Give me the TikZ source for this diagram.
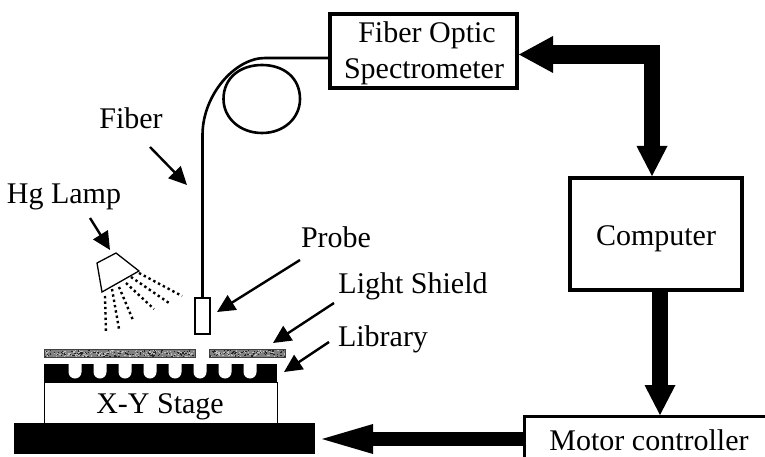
\documentclass[tikz,border=0pt]{standalone}
\usepackage{fontspec}
\setmainfont{Liberation Serif}
\usetikzlibrary{arrows.meta}
\tikzset{
  lbl/.style={anchor=base,inner sep=0pt,font=\fontsize{30}{32}\selectfont},
  thinarrow/.style={line width=2.4pt,-{Triangle[length=18pt,width=17pt]}},
  box/.style={draw,line width=4pt,fill=white,inner sep=0pt,outer sep=0pt},
  blk/.style={fill=black,draw=none},
  shield/.style={draw=black!75,line width=.6pt,fill=black!50},
  ray/.style={line width=2.4pt,dash pattern=on 2.4pt off 3pt},
  well/.style={fill=white,draw=none},
  fiberline/.style={line width=2.6pt},
}
\begin{document}
\begin{tikzpicture}[x=1pt,y=-1pt]
\useasboundingbox (0,0) rectangle (765,457);
\clip (0,0) rectangle (765,457);
% boxes
\node[box,minimum width=187pt,minimum height=74pt] (spec) at (423.5,51) {};
\node[box,minimum width=172pt,minimum height=112pt] (comp) at (656,234) {};
\node[box,line width=3.5pt,minimum width=300pt,minimum height=100pt,anchor=north west] (motor) at (524.5,416.5) {};
\node[lbl] (t1) at (427,43) {Fiber Optic};
\node[lbl] (t2) at (424,79) {Spectrometer};
\node[lbl] (t3) at (656,245) {Computer};
\node[lbl] (t4) at (649,450) {Motor controller};
% coordinates of thick arrows
\coordinate (specin) at (519,54.5);
\coordinate (headl) at (553,54.5);
\coordinate (corner) at (660,54.5);
\coordinate (compin) at (652,176);
\coordinate (vtop) at (652,45);
\coordinate (vbot) at (652,146);
\coordinate (compout) at (660,292);
\coordinate (motorhead) at (660,385);
\coordinate (motorin) at (660,415);
\coordinate (motorout) at (523,439);
\coordinate (basehead) at (373,439);
\coordinate (basein) at (322,439);
\draw[line width=19pt] (headl) -- (corner);
\fill (specin) -- ++(34,-18.5) -- ++(0,37) -- cycle;
\draw[line width=16pt] (vtop) -- (vbot);
\fill (compin) -- ++(-15.5,-30) -- ++(31,0) -- cycle;
\draw[line width=16pt] (compout) -- (motorhead);
\fill (motorin) -- ++(-15.5,-30) -- ++(31,0) -- cycle;
\draw[line width=14pt] (motorout) -- (basehead);
\fill (basein) -- ++(51,-15) -- ++(0,30) -- cycle;
% stage
\node[draw,line width=1pt,fill=white,inner sep=0pt,minimum width=233pt,minimum height=41pt] (stage) at (160.5,402.5) {};
\node[blk,inner sep=0pt,minimum width=301pt,minimum height=31pt] (base) at (164.5,438.5) {};
\node[blk,inner sep=0pt,minimum width=233pt,minimum height=18pt] (lib) at (160.5,373) {};
\foreach \x in {75,100,125,150,175,200,225,250}{
  \fill[well] (\x-6.5,364) -- (\x+6.5,364) -- (\x+6.5,372) arc[start angle=0,end angle=180,radius=6.5] -- cycle;
}
\node[lbl] (t5) at (160,413) {X-Y Stage};
% light shield
\node[shield,inner sep=0pt,minimum width=151pt,minimum height=8pt] (shl) at (119.5,353) {};
\node[shield,inner sep=0pt,minimum width=76pt,minimum height=8pt] (shr) at (247,353) {};
\pgfmathsetseed{7}
\foreach \i in {1,...,420}{
  \pgfmathsetmacro{\xx}{45+rnd*239}
  \pgfmathsetmacro{\yy}{350+rnd*6}
  \pgfmathsetmacro{\grayv}{rnd>.5?25:85}
  \pgfmathparse{(\xx<194||\xx>209.5)?1:0}
  \ifdim\pgfmathresult pt>0.5pt
  \fill[black!\grayv] (\xx,\yy) rectangle ++(1.3,1.1);
  \fi
}
% probe and fiber
\node[draw,line width=2.4pt,fill=white,inner sep=0pt,minimum width=15pt,minimum height=36pt] (probe) at (202.5,316) {};
\coordinate (fibjoin) at (329,58);
\draw[fiberline] (probe.north) -- (202.5,135) .. controls (202.5,95) and (235,58) .. (265,58) -- (fibjoin);
\draw[fiberline] (223.5,99) .. controls (223.5,78) and (240,65) .. (262,65) .. controls (284,65) and (300,78) .. (300,99) .. controls (300,118) and (284,133) .. (262,133) .. controls (240,133) and (223.5,118) .. (223.5,99) -- cycle;
% lamp
\draw[line width=1.3pt,line join=miter] (97,263) -- (116,253) -- (139,271) -- (102,292) -- cycle;
\coordinate (r1a) at (105,296); \coordinate (r1b) at (106,333);
\coordinate (r2a) at (112,289); \coordinate (r2b) at (119,329);
\coordinate (r3a) at (119,287); \coordinate (r3b) at (133,320);
\coordinate (r4a) at (126,283); \coordinate (r4b) at (154,309);
\coordinate (r5a) at (131,277); \coordinate (r5b) at (169,303);
\coordinate (r6a) at (139,273); \coordinate (r6b) at (182,296);
\foreach \r in {1,...,6}{\draw[ray] (r\r a) -- (r\r b);}
% labels
\node[lbl] (fib) at (131,129) {Fiber};
\node[lbl] (hg) at (64,204) {Hg Lamp};
\node[lbl] (prb) at (336,247) {Probe};
\node[lbl] (ls) at (413,293) {Light Shield};
\node[lbl] (lb) at (383,346) {Library};
% thin arrows
\coordinate (a1s) at (150,147); \coordinate (a1e) at (187,185);
\coordinate (a2s) at (90,218); \coordinate (a2e) at (110,250);
\coordinate (a3s) at (300,260); \coordinate (a3e) at (217,312);
\coordinate (a4s) at (334,303); \coordinate (a4e) at (273,343);
\coordinate (a5s) at (329,342); \coordinate (a5e) at (284,372);
\foreach \a in {1,...,5}{\draw[thinarrow] (a\a s) -- (a\a e);}
\end{tikzpicture}
\end{document}
